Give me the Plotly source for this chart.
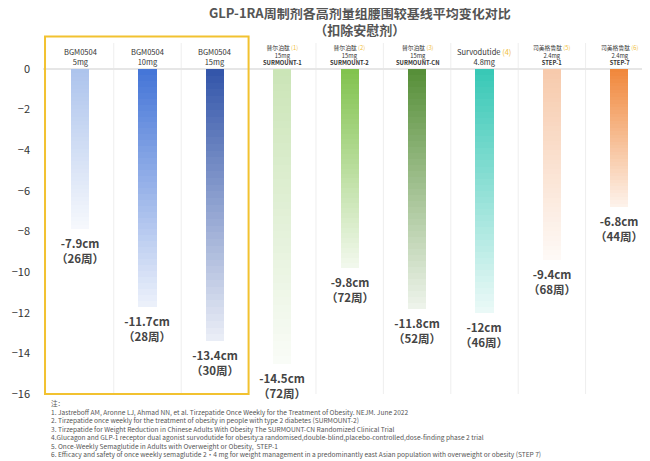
import numpy as np
import plotly.graph_objects as go

drugs = ["BGM0504", "BGM0504", "BGM0504", "替尔泊肽", "替尔泊肽", "替尔泊肽",
         "Survodutide", "司美格鲁肽", "司美格鲁肽"]
refs = ["", "", "", "(1)", "(2)", "(3)", "(4)", "(5)", "(6)"]
doses = ["5mg", "10mg", "15mg", "15mg", "15mg", "15mg", "4.8mg", "2.4mg", "2.4mg"]
trials = ["", "", "", "SURMOUNT-1", "SURMOUNT-2", "SURMOUNT-CN", "", "STEP-1", "STEP-7"]
values = [-7.9, -11.7, -13.4, -14.5, -9.8, -11.8, -12.0, -9.4, -6.8]
weeks = [26, 28, 30, 72, 72, 52, 46, 68, 44]
top_colors = ["#a9c1ec", "#3c6fd6", "#2a4ea6", "#c9e4b4", "#7cc046", "#4f8a2f",
              "#2fc6b3", "#f7c8a8", "#f08232"]
notes = [
    "注：",
    "1. Jastreboff AM, Aronne LJ, Ahmad NN, et al. Tirzepatide Once Weekly for the Treatment of Obesity. NEJM. June 2022",
    "2. Tirzepatide once weekly for the treatment of obesity in people with type 2 diabetes (SURMOUNT-2)",
    "3. Tirzepatide for Weight Reduction in Chinese Adults With Obesity The SURMOUNT-CN Randomized Clinical Trial",
    "4.Glucagon and GLP-1 receptor dual agonist survodutide for obesity:a randomised,double-blind,placebo-controlled,dose-finding phase 2 trial",
    "5. Once-Weekly Semaglutide in Adults with Overweight or Obesity,  STEP-1",
    "6. Efficacy and safety of once weekly semaglutide 2·4 mg for weight management in a predominantly east Asian population with overweight or obesity (STEP 7)",
]

N_SEG = 40


def mix(hex_color, t):
    # blend toward white by t
    c = np.array([int(hex_color[i:i + 2], 16) for i in (1, 3, 5)])
    c = c + (255 - c) * t
    return "rgb(%d,%d,%d)" % tuple(c.astype(int))


fig = go.Figure()
x = list(range(len(values)))
for k in range(N_SEG):
    t = k / (N_SEG - 1)
    fig.add_bar(
        x=x,
        y=[v / N_SEG for v in values],
        marker=dict(color=[mix(c, 0.05 + 0.85 * t) for c in top_colors], line_width=0),
        width=0.27,
        showlegend=False,
        hoverinfo="skip",
    )

for i, (v, w) in enumerate(zip(values, weeks)):
    vs = f"{v:g}" if v != int(v) else f"{int(v)}"
    fig.add_annotation(
        x=i, y=v, yanchor="top", yshift=-4, showarrow=False,
        text=f"<b>{vs}cm<br>（{w}周）</b>", font=dict(size=11.5, color="#444"),
        align="center",
    )
    head = f"{drugs[i]}"
    if refs[i]:
        head += f" <span style='color:#f0c040'>{refs[i]}</span>"
    lines = [head, doses[i]]
    if trials[i]:
        lines.append(f"<b>{trials[i]}</b>")
    big = i < 3 or i == 6
    fig.add_annotation(
        x=i, y=1.0, yref="paper", yanchor="bottom", yshift=0, showarrow=False,
        text="<br>".join(lines), align="center",
        font=dict(size=7.5 if big else 5.8, color="#333"),
    )

# separators between columns
for i in range(len(values) - 1):
    fig.add_shape(type="line", x0=i + 0.5, x1=i + 0.5, y0=0, y1=1.08, yref="paper",
                  line=dict(color="#eeeeee", width=1), layer="below")
fig.add_shape(type="rect", x0=-0.52, x1=2.5, y0=0, y1=1.1, yref="paper",
              line=dict(color="#f2c230", width=2))

fig.add_annotation(
    x=0.52, xref="paper", y=1.21, yref="paper", yanchor="top", showarrow=False,
    text="<b>GLP-1RA周制剂各高剂量组腰围较基线平均变化对比<br>（扣除安慰剂）</b>",
    font=dict(size=13, color="#555"),
)
fig.add_annotation(
    x=0.01, xref="paper", xanchor="left", y=-0.005, yref="paper", yanchor="top",
    showarrow=False, align="left", text="<br>".join(notes),
    font=dict(size=6.6, color="#555"),
)

fig.update_layout(
    width=650, height=461, barmode="relative", bargap=0,
    margin=dict(l=35, r=5, t=61, b=75),
    plot_bgcolor="white", paper_bgcolor="white",
    font=dict(family="Noto Sans CJK SC"),
    xaxis=dict(range=[-0.55, 8.5], showticklabels=False, showgrid=False, zeroline=False),
    yaxis=dict(range=[-16, 0], dtick=2, showgrid=False, zeroline=True,
               zerolinecolor="#e6e6e6", tickfont=dict(size=11, color="#333"),
               ticklabelstandoff=12),
)
fig.write_html("out.html")
